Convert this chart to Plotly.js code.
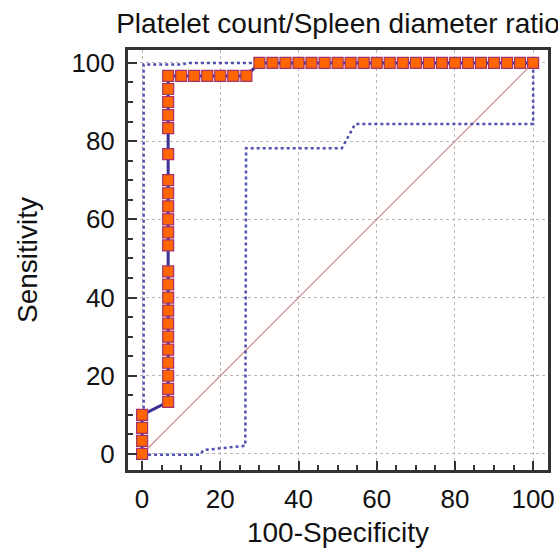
<!DOCTYPE html>
<html>
<head>
<meta charset="utf-8">
<script src="https://cdn.plot.ly/plotly-3.0.1.min.js"></script>
<style>
  html, body { margin: 0; padding: 0; background: #fff; }
  #chart { width: 558px; height: 551px; }
</style>
</head>
<body>
<div id="chart"></div>
<script>
// ROC curve vertices (100-Specificity, Sensitivity)
const rocX = [0, 0, 6.67, 6.67, 26.67, 30, 100];
const rocY = [0, 10, 13.33, 96.67, 96.67, 100, 100];

// Criterion points (markers)
const markerX = [
  0, 0, 0, 0,
  6.67, 6.67, 6.67, 6.67, 6.67, 6.67, 6.67, 6.67, 6.67, 6.67, 6.67,
  6.67, 6.67, 6.67, 6.67, 6.67, 6.67, 6.67, 6.67, 6.67, 6.67, 6.67, 6.67,
  10, 13.33, 16.67, 20, 23.33, 26.67,
  30, 33.33, 36.67, 40, 43.33, 46.67, 50, 53.33, 56.67, 60, 63.33,
  66.67, 70, 73.33, 76.67, 80, 83.33, 86.67, 90, 93.33, 96.67, 100
];
const markerY = [
  0, 3.33, 6.67, 10,
  13.33, 16.67, 20, 23.33, 26.67, 30, 33.33, 36.67, 40, 43.33, 46.67,
  53.33, 56.67, 60, 63.33, 66.67, 70, 76.67, 83.33, 86.67, 90, 93.33, 96.67,
  96.67, 96.67, 96.67, 96.67, 96.67, 96.67,
  100, 100, 100, 100, 100, 100, 100, 100, 100, 100, 100,
  100, 100, 100, 100, 100, 100, 100, 100, 100, 100, 100
];

// 95% confidence bounds
const ciUpX = [0.4, 0.4, 10.5, 11.5, 100];
const ciUpY = [10, 99.6, 99.6, 100, 100];
const ciLoX = [0, 14.8, 15.7, 26.4, 26.6, 51.1, 54.5, 100, 100];
const ciLoY = [-0.2, -0.2, 1.0, 2.1, 78.2, 78.2, 84.4, 84.4, 100];

// Reference diagonal
const diagX = [0, 100];
const diagY = [0, 100];

const tickVals = [0, 20, 40, 60, 80, 100];
const tickText = ['0', '20', '40', '60', '80', '100'];

const FONT = '"Liberation Sans", Arial, sans-serif';

const traces = [
  { x: diagX, y: diagY, mode: 'lines', line: { color: '#d08a8a', width: 1.2 }, hoverinfo: 'skip' },
  { x: ciUpX, y: ciUpY, mode: 'lines', line: { color: '#5050b0', width: 2.5, dash: 'dot' }, hoverinfo: 'skip' },
  { x: ciLoX, y: ciLoY, mode: 'lines', line: { color: '#5050b0', width: 2.5, dash: 'dot' }, hoverinfo: 'skip' },
  { x: rocX, y: rocY, mode: 'lines', line: { color: '#3a3396', width: 3 } },
  { x: markerX, y: markerY, mode: 'markers',
    marker: { symbol: 'square', size: 11, color: '#ff6600', line: { color: '#a3336e', width: 1.2 } } }
];

const axisCommon = {
  tickvals: tickVals,
  ticktext: tickText,
  ticks: 'inside',
  ticklen: 9,
  tickwidth: 2,
  tickcolor: '#333',
  showline: true,
  linecolor: '#333',
  linewidth: 3,
  mirror: true,
  showgrid: true,
  gridcolor: '#b8b8b8',
  gridwidth: 1,
  griddash: 'dot',
  zeroline: false,
  tickfont: { family: FONT, size: 26, color: '#111' },
  minor: { dtick: 5, ticks: 'inside', ticklen: 5, tickwidth: 2, tickcolor: '#333', showgrid: false },
  fixedrange: true
};

const layout = {
  width: 558,
  height: 551,
  margin: { l: 128, r: 10, t: 50, b: 81, pad: 0 },
  paper_bgcolor: '#fff',
  plot_bgcolor: '#fff',
  showlegend: false,
  title: {
    text: 'Platelet count/Spleen diameter ratio',
    font: { family: FONT, size: 28, color: '#111' },
    x: 0.5, xref: 'paper', xanchor: 'center',
    y: 0.958, yref: 'container', yanchor: 'middle'
  },
  xaxis: Object.assign({}, axisCommon, {
    range: [-3.6, 103.8],
    title: { text: '100-Specificity', font: { family: FONT, size: 28, color: '#111' }, standoff: 10 },
    ticklabelstandoff: 4
  }),
  yaxis: Object.assign({}, axisCommon, {
    range: [-4.1, 103.3],
    title: { text: 'Sensitivity', font: { family: FONT, size: 28, color: '#111' }, standoff: 26 },
    ticklabelstandoff: 5
  })
};

Plotly.newPlot('chart', traces, layout, { displayModeBar: false, staticPlot: true });
</script>
</body>
</html>
